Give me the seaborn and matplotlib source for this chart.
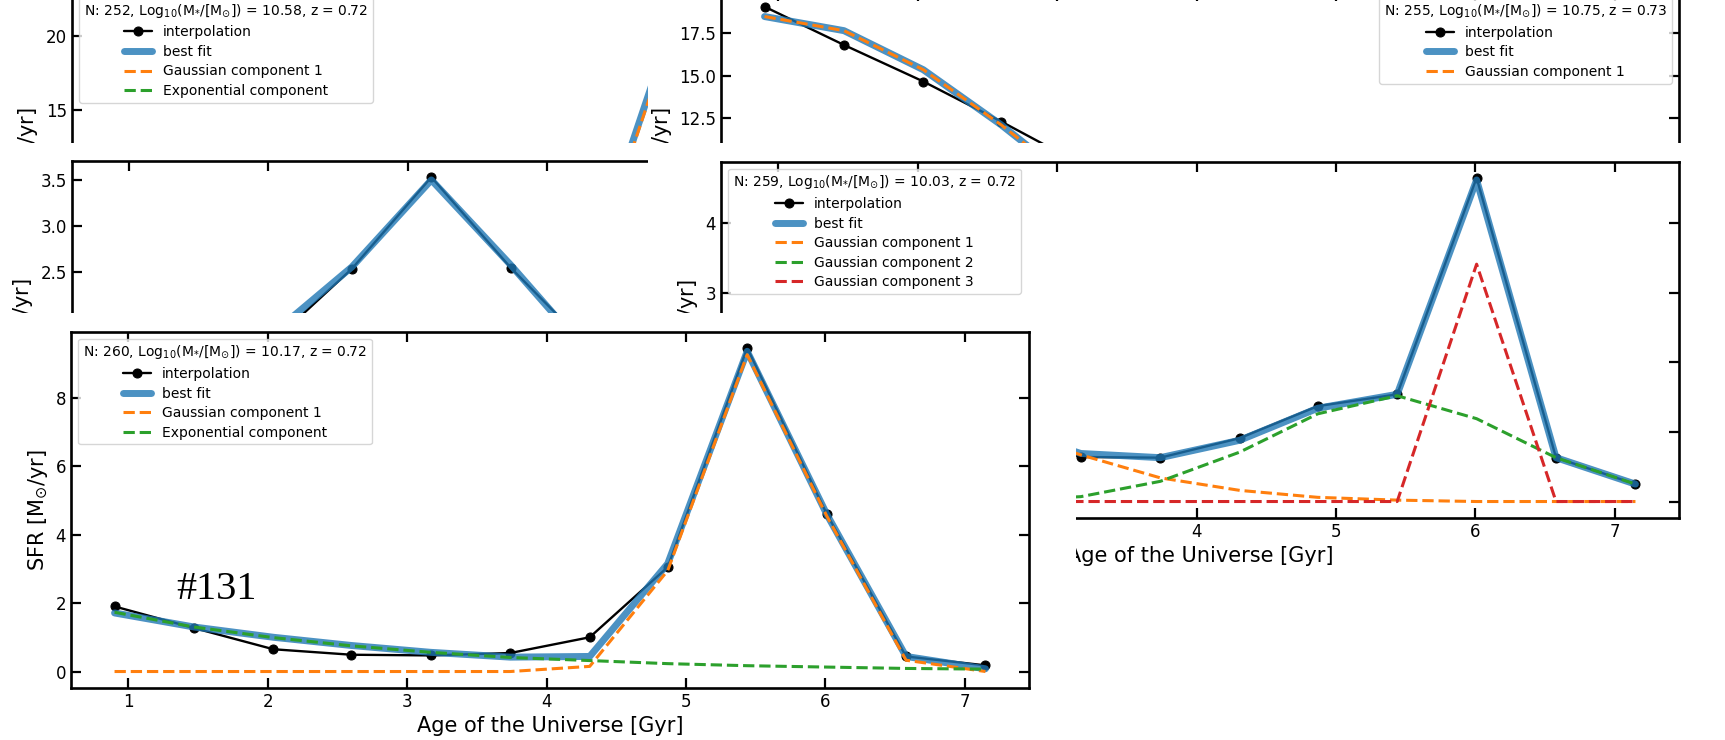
import matplotlib
matplotlib.use("Agg")
import matplotlib.pyplot as plt
from matplotlib.patches import Rectangle
from matplotlib.ticker import MultipleLocator
import seaborn as sns

# lookback grid shared by every panel
age = [0.9, 1.47, 2.04, 2.6, 3.17, 3.74, 4.31, 4.87, 5.44, 6.01, 6.58, 7.15]

# panel N:252 (top left, mostly covered)
p1_interp = [0.3, 0.4, 0.5, 0.6, 0.8, 1.2, 2.5, 15.0, 22.05, 14.0, 4.0, 1.0]
p1_fit = [0.2, 0.25, 0.3, 0.4, 0.6, 1.2, 4.35, 20.1, 21.0, 13.5, 4.2, 0.9]
p1_gauss = [0.0, 0.0, 0.0, 0.05, 0.2, 0.75, 3.9, 19.7, 20.7, 13.3, 4.1, 0.85]
p1_exp = [0.2, 0.25, 0.3, 0.35, 0.4, 0.45, 0.45, 0.4, 0.3, 0.2, 0.1, 0.05]

# panel N:255 (top right)
p2_interp = [19.06, 16.81, 14.66, 12.3, 9.8, 7.5, 5.4, 3.6, 2.2, 1.1, 0.5, 0.2]
p2_fit = [18.48, 17.65, 15.35, 12.1, 8.4, 5.6, 3.5, 2.0, 1.1, 0.5, 0.2, 0.03]
p2_gauss = [18.48, 17.65, 15.35, 12.1, 8.4, 5.6, 3.5, 2.0, 1.1, 0.5, 0.2, 0.03]

# middle left panel
p3_interp = [0.03, 0.4, 1.76, 2.54, 3.53, 2.55, 1.68, 0.8, 0.3, 0.15, 0.08, 0.05]
p3_fit = [0.05, 0.5, 1.85, 2.56, 3.5, 2.58, 1.6, 0.75, 0.3, 0.1, 0.05, 0.03]

# panel N:259 (middle right)
p4_interp = [2.3, 1.8, 1.55, 1.0, 0.64, 0.63, 0.91, 1.37, 1.54, 4.65, 0.63, 0.25]
p4_fit = [2.2, 1.9, 1.5, 1.06, 0.69, 0.63, 0.88, 1.34, 1.54, 4.62, 0.63, 0.25]
p4_gauss1 = [2.2, 1.9, 1.5, 1.05, 0.67, 0.34, 0.16, 0.06, 0.02, 0.0, 0.0, 0.0]
p4_gauss2 = [0.0, 0.0, 0.0, 0.01, 0.07, 0.29, 0.71, 1.26, 1.52, 1.19, 0.63, 0.25]
p4_gauss3 = [0.0, 0.0, 0.0, 0.0, 0.0, 0.0, 0.0, 0.0, 0.0, 3.41, 0.0, 0.0]

# panel N:260 (bottom, #131)
p5_interp = [1.9, 1.27, 0.65, 0.49, 0.47, 0.54, 1.0, 3.05, 9.45, 4.61, 0.44, 0.18]
p5_fit = [1.71, 1.3, 1.0, 0.76, 0.56, 0.42, 0.44, 3.15, 9.35, 4.6, 0.44, 0.08]
p5_gauss = [0.0, 0.0, 0.0, 0.0, 0.0, 0.0, 0.15, 2.95, 9.25, 4.55, 0.33, 0.0]
p5_exp = [1.73, 1.3, 0.99, 0.75, 0.56, 0.41, 0.32, 0.23, 0.17, 0.13, 0.09, 0.07]

sns.set_theme(style="ticks", rc={
    "axes.edgecolor": "black", "xtick.color": "black", "ytick.color": "black",
    "text.color": "black", "axes.labelcolor": "black",
})
plt.rcParams["font.family"] = ["DejaVu Sans"]
plt.rcParams["mathtext.fontset"] = "dejavusans"

W, H = 1725, 740
fig = plt.figure(figsize=(W / 100, H / 100), dpi=100)


def px_axes(left, top, z, width=958, height=356):
    ax = fig.add_axes([left / W, 1 - (top + height) / H, width / W, height / H])
    ax.set_zorder(z)
    return ax


def backdrop(x0, y0, x1, y1, z):
    # white sheet that hides the parts of the panels pasted underneath
    fig.add_artist(Rectangle((x0 / W, 1 - y1 / H), (x1 - x0) / W, (y1 - y0) / H,
                             transform=fig.transFigure, facecolor="white",
                             edgecolor="none", zorder=z))


def draw_panel(ax, title, interp, fit, comps, ystep, loc):
    sns.lineplot(x=age, y=interp, ax=ax, color="black", linewidth=1.7, marker="o",
                 markersize=6.5, markeredgecolor="black", label="interpolation")
    sns.lineplot(x=age, y=fit, ax=ax, color="tab:blue", linewidth=5, alpha=0.8,
                 label="best fit")
    for name, vals, col in comps:
        sns.lineplot(x=age, y=vals, ax=ax, color=col, linewidth=2.2, linestyle="--",
                     label=name)
    ax.legend(title=title, loc=loc, fontsize=10, title_fontsize=10,
              labelspacing=0.4, borderpad=0.35)
    ax.xaxis.set_major_locator(MultipleLocator(1))
    ax.yaxis.set_major_locator(MultipleLocator(ystep))
    ax.tick_params(direction="in", top=True, right=True, length=7, width=1.6,
                   labelsize=12, colors="black")
    for sp in ax.spines.values():
        sp.set_linewidth(1.9)
    ax.set_xlabel("Age of the Universe [Gyr]", fontsize=15)
    ax.set_ylabel(r"SFR [M$_{\odot}$/yr]", fontsize=15)


def info(n, mass, z):
    return rf"N: {n}, Log$_{{10}}$(M$_{{*}}$/[M$_{{\odot}}$]) = {mass}, z = {z}"


# top left
ax1 = px_axes(72, -10, 1)
draw_panel(ax1, info(252, "10.58", "0.72"), p1_interp, p1_fit,
           [("Gaussian component 1", p1_gauss, "tab:orange"),
            ("Exponential component", p1_exp, "tab:green")], 5, "upper left")

# top right
backdrop(648, 0, W, 143, 2)
ax2 = px_axes(721, -9.5, 3)
draw_panel(ax2, info(255, "10.75", "0.73"), p2_interp, p2_fit,
           [("Gaussian component 1", p2_gauss, "tab:orange")], 2.5, "upper right")

# middle left
backdrop(0, 143, 648, 313, 4)
ax3 = px_axes(71.5, 161, 5)
draw_panel(ax3, info(257, "10.12", "0.72"), p3_interp, p3_fit, [], 0.5, "upper right")

# middle right
backdrop(648, 143, W, H, 6)
ax4 = px_axes(721, 161.7, 7)
draw_panel(ax4, info(259, "10.03", "0.72"), p4_interp, p4_fit,
           [("Gaussian component 1", p4_gauss1, "tab:orange"),
            ("Gaussian component 2", p4_gauss2, "tab:green"),
            ("Gaussian component 3", p4_gauss3, "tab:red")], 1, "upper left")

# bottom
backdrop(0, 313, 1076, H, 8)
ax5 = px_axes(71, 331.7, 9)
draw_panel(ax5, info(260, "10.17", "0.72"), p5_interp, p5_fit,
           [("Gaussian component 1", p5_gauss, "tab:orange"),
            ("Exponential component", p5_exp, "tab:green")], 2, "upper left")
ax5.text(1.34, 2.12, "#131", family="Liberation Serif", fontsize=29,
         ha="left", va="baseline")

fig.savefig("out.png", dpi=100)
